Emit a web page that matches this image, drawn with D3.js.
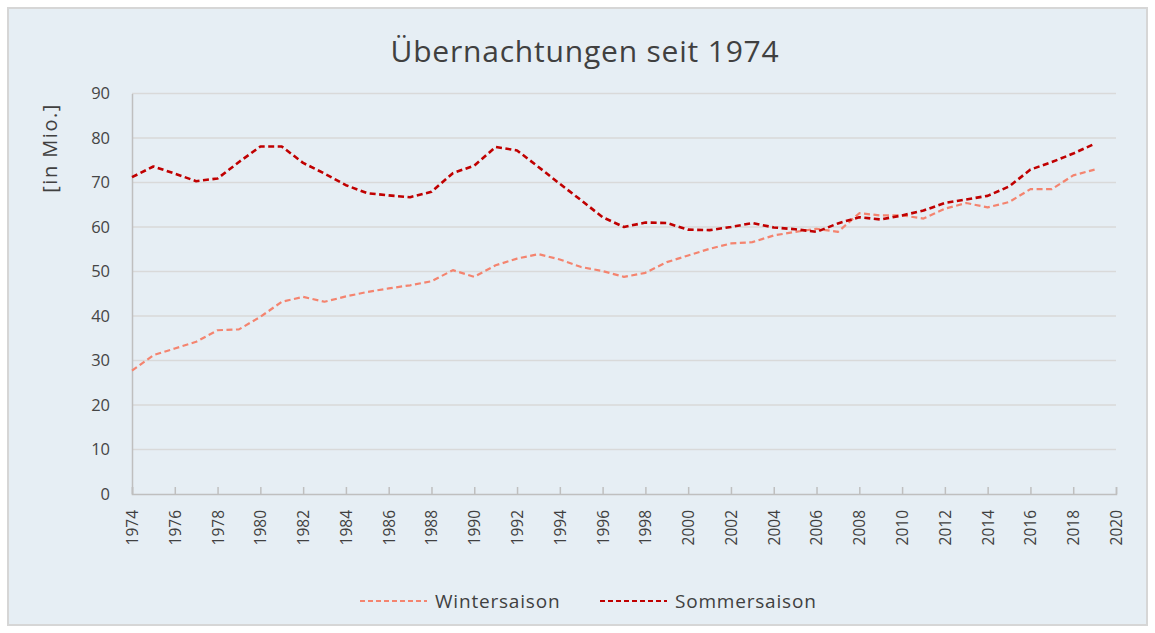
<!DOCTYPE html>
<html>
<head>
<meta charset="utf-8">
<script src="https://cdn.jsdelivr.net/npm/d3@7"></script>
<style>
  body { margin: 0; background: #fff; }
  text { font-family: "Open Sans", sans-serif; }
</style>
</head>
<body>
<div id="chart"></div>
<script>
// data
const years = d3.range(1974, 2020);
const winter = [27.7, 31.2, 32.7, 34.2, 36.8, 37.0, 39.8, 43.2, 44.3, 43.2,
  44.4, 45.4, 46.2, 46.9, 47.8, 50.3, 48.8, 51.4, 52.9, 53.9,
  52.7, 51.0, 50.1, 48.8, 49.7, 52.1, 53.6, 55.1, 56.3, 56.6,
  58.1, 58.9, 59.6, 58.9, 63.1, 62.6, 62.6, 61.9, 64.1, 65.4,
  64.4, 65.6, 68.5, 68.5, 71.6, 72.9];
const sommer = [71.2, 73.6, 72.0, 70.3, 70.9, 74.6, 78.1, 78.1, 74.4, 72.0,
  69.4, 67.6, 67.1, 66.7, 67.9, 72.1, 73.8, 78.0, 77.2, 73.5,
  69.7, 66.0, 62.2, 60.0, 61.0, 60.9, 59.4, 59.3, 60.0, 60.9,
  59.9, 59.5, 58.9, 60.8, 62.2, 61.7, 62.6, 63.7, 65.4, 66.2,
  67.0, 69.1, 72.9, 74.6, 76.5, 78.7];
const xTicks = d3.range(1974, 2021, 2);
const yTicks = d3.range(0, 91, 10);
const series = [
  {name: "Wintersaison", values: winter, color: "#f4846f", width: 2.2},
  {name: "Sommersaison", values: sommer, color: "#c00000", width: 2.6}
];

const W = 1155, H = 633;
const svg = d3.select("#chart").append("svg")
  .attr("width", W).attr("height", H);

svg.append("rect")
  .attr("x", 8).attr("y", 8).attr("width", 1139).attr("height", 617)
  .attr("fill", "#e6eef4").attr("stroke", "#d6d6d6").attr("stroke-width", 2);

const x = d3.scaleLinear().domain([1974, 2020]).range([132, 1116]);
const y = d3.scaleLinear().domain([0, 90]).range([494, 93.5]);

// gridlines
svg.append("g").selectAll("line")
  .data(yTicks.filter(d => d > 0))
  .join("line")
  .attr("x1", x(1974)).attr("x2", x(2020))
  .attr("y1", d => y(d)).attr("y2", d => y(d))
  .attr("stroke", "#d9d9d9").attr("stroke-width", 1.5);

// y axis
const yAxis = svg.append("g")
  .attr("transform", `translate(${x(1974)},0)`)
  .call(d3.axisLeft(y).tickValues(yTicks).tickSize(0).tickPadding(22));
yAxis.select(".domain").attr("stroke", "#bfbfbf").attr("stroke-width", 1.5);
yAxis.selectAll("text").attr("font-size", 16.5).attr("fill", "#454545");

// x axis (ticks point up)
const xAxis = svg.append("g")
  .attr("transform", `translate(0,${y(0)})`)
  .call(d3.axisBottom(x).tickValues(xTicks).tickFormat(d3.format("d"))
    .tickSizeInner(-7).tickSizeOuter(-7));
xAxis.select(".domain").attr("stroke", "#bfbfbf").attr("stroke-width", 1.5);
xAxis.selectAll(".tick line").attr("stroke", "#bfbfbf").attr("stroke-width", 1.5);
xAxis.selectAll("text")
  .attr("font-size", 15.5).attr("fill", "#404040")
  .attr("transform", "rotate(-90)")
  .attr("text-anchor", "end")
  .attr("x", -16).attr("y", 0).attr("dy", "0.35em");

// lines
const line = d3.line()
  .x((d, i) => x(years[i]))
  .y(d => y(d));

svg.append("g").selectAll("path")
  .data(series)
  .join("path")
  .attr("d", d => line(d.values))
  .attr("fill", "none")
  .attr("stroke", d => d.color)
  .attr("stroke-width", d => d.width)
  .attr("stroke-dasharray", "6,3.5")
  .attr("stroke-linejoin", "round");

// title
svg.append("text")
  .attr("x", 585).attr("y", 62)
  .attr("text-anchor", "middle")
  .attr("font-size", 30).attr("letter-spacing", 0.8).attr("fill", "#404040")
  .text("Übernachtungen seit 1974");

// y label
svg.append("text")
  .attr("transform", "translate(57,148) rotate(-90)")
  .attr("text-anchor", "middle")
  .attr("font-size", 20).attr("letter-spacing", 1.5).attr("fill", "#404040")
  .text("[in Mio.]");

// legend
const leg = svg.append("g").selectAll("g")
  .data(series)
  .join("g")
  .attr("transform", (d, i) => `translate(${360 + i * 240},601)`);
leg.append("line")
  .attr("x1", 0).attr("x2", 67)
  .attr("stroke", d => d.color).attr("stroke-width", 2)
  .attr("stroke-dasharray", "5,3");
leg.append("text")
  .attr("x", 75).attr("dy", "0.35em")
  .attr("font-size", 19).attr("letter-spacing", 0.8).attr("fill", "#404040")
  .text(d => d.name);
</script>
</body>
</html>
